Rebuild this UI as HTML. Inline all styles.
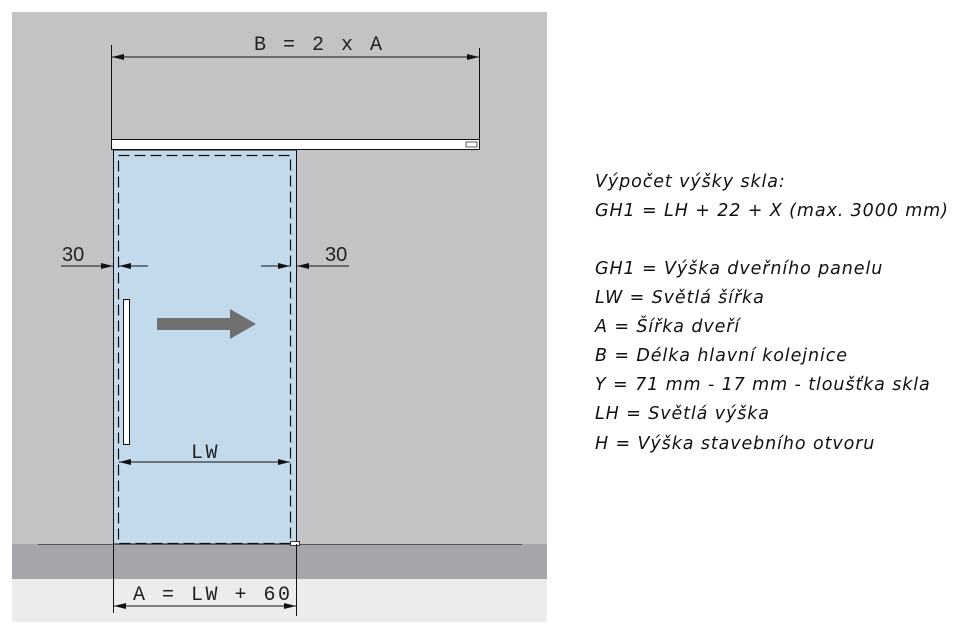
<!DOCTYPE html>
<html><head><meta charset="utf-8"><style>
body{margin:0;width:977px;height:632px;background:#fff;overflow:hidden}
svg{position:absolute;left:0;top:0}
.t{font-family:"DejaVu Sans","Liberation Sans",sans-serif;font-style:italic;font-size:17.5px;fill:#111;letter-spacing:0.9px}
.m{font-family:"Liberation Mono",monospace;font-size:20px;fill:#222;letter-spacing:2.5px}
.s{font-family:"Liberation Sans",sans-serif;font-size:20px;fill:#222}
</style></head><body>
<svg width="977" height="632" viewBox="0 0 977 632">
<defs><marker id="a" markerWidth="12" markerHeight="6" refX="12" refY="3" orient="auto-start-reverse" markerUnits="userSpaceOnUse"><path d="M0,0 L12,3 L0,6 Z" fill="#111"/></marker></defs>
<rect x="12" y="12" width="535" height="532" fill="#c3c3c5"/>
<rect x="12" y="544" width="535" height="35" fill="#a7a5a9"/>
<rect x="12" y="579" width="535" height="43" fill="#ecebed"/>
<line x1="111.5" y1="45" x2="111.5" y2="150" stroke="#111"/>
<line x1="479.5" y1="48" x2="479.5" y2="150" stroke="#111"/>
<line x1="112" y1="57" x2="479" y2="57" stroke="#111" marker-start="url(#a)" marker-end="url(#a)"/>
<text x="254" y="50" class="m">B = 2 x A</text>
<rect x="111.5" y="139.5" width="368" height="10" fill="#fff" stroke="#111"/>
<rect x="466" y="142" width="11" height="5" fill="#fff" stroke="#333" stroke-width="0.8"/>
<rect x="113.5" y="150" width="183" height="394" fill="#c3d9ec" stroke="#111"/>
<rect x="118.5" y="155.5" width="172" height="388" fill="none" stroke="#111" stroke-width="1.2" stroke-dasharray="11,5"/>
<rect x="123.5" y="299.5" width="6" height="145" fill="#fff" stroke="#111"/>
<path d="M157,318 H230 V309 L256,324 L230,339 V330 H157 Z" fill="#707070"/>
<line x1="119" y1="462" x2="290" y2="462" stroke="#111" marker-start="url(#a)" marker-end="url(#a)"/>
<text x="191" y="458" class="m">LW</text>
<line x1="61" y1="266" x2="113" y2="266" stroke="#111" marker-end="url(#a)"/>
<line x1="148" y1="266" x2="119" y2="266" stroke="#111" marker-end="url(#a)"/>
<text x="62" y="261" class="s">30</text>
<line x1="261" y1="266" x2="290" y2="266" stroke="#111" marker-end="url(#a)"/>
<line x1="349" y1="266" x2="297" y2="266" stroke="#111" marker-end="url(#a)"/>
<text x="325" y="261" class="s">30</text>
<line x1="38" y1="544.5" x2="522" y2="544.5" stroke="#555"/>
<rect x="290.5" y="541.5" width="9" height="4" fill="#fff" stroke="#111" stroke-width="0.8"/>
<line x1="113.5" y1="544" x2="113.5" y2="613" stroke="#111"/>
<line x1="296.5" y1="544" x2="296.5" y2="616" stroke="#111"/>
<line x1="114" y1="606" x2="296" y2="606" stroke="#111" marker-start="url(#a)" marker-end="url(#a)"/>
<text x="133" y="600" class="m">A = LW + 60</text>
<text class="t" x="595" y="187">Výpočet výšky skla:</text>
<text class="t" x="595" y="216">GH1 = LH + 22 + X (max. 3000 mm)</text>
<text class="t" x="595" y="274">GH1 = Výška dveřního panelu</text>
<text class="t" x="595" y="303">LW = Světlá šířka</text>
<text class="t" x="595" y="332">A = Šířka dveří</text>
<text class="t" x="595" y="361">B = Délka hlavní kolejnice</text>
<text class="t" x="595" y="390">Y = 71 mm - 17 mm - tloušťka skla</text>
<text class="t" x="595" y="419">LH = Světlá výška</text>
<text class="t" x="595" y="449">H = Výška stavebního otvoru</text>
</svg>
</body></html>
